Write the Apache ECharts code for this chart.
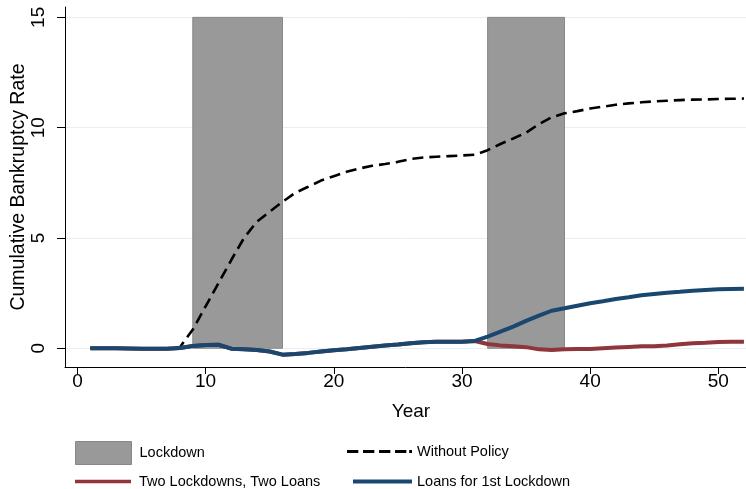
<!DOCTYPE html>
<html>
<head>
<meta charset="utf-8">
<script src="https://cdn.jsdelivr.net/npm/echarts@6/dist/echarts.min.js"></script>
<style>
  html, body { margin: 0; padding: 0; background: #fff; }
  #chart { width: 746px; height: 489px; }
</style>
</head>
<body>
<div id="chart"></div>
<script>
// years on the x axis
var years = [1,2,3,4,5,6,7,8,9,10,11,12,13,14,15,16,17,18,19,20,21,22,23,24,25,26,
  27,28,29,30,31,32,33,34,35,36,37,38,39,40,41,42,43,44,45,46,47,48,49,50,51,52];

var withoutPolicy = [0,0,0,0,0,0,0,0.05,0.85,1.9,2.95,4.0,5.0,5.74,6.19,6.64,7.05,7.32,7.6,7.8,
  8.0,8.15,8.27,8.35,8.45,8.58,8.65,8.68,8.71,8.74,8.77,8.98,9.26,9.51,9.77,10.16,10.47,10.65,
  10.75,10.87,10.95,11.04,11.1,11.15,11.19,11.22,11.25,11.27,11.28,11.3,11.31,11.32];

var twoLoans = [0,0,0,-0.01,-0.02,-0.02,-0.02,0.01,0.1,0.15,0.16,-0.02,-0.05,-0.08,-0.15,-0.29,
  -0.26,-0.21,-0.15,-0.09,-0.05,0.01,0.07,0.12,0.17,0.23,0.27,0.29,0.29,0.3,0.33,
  0.19,0.13,0.09,0.05,-0.05,-0.08,-0.05,-0.03,-0.03,0,0.03,0.06,0.09,0.09,0.13,0.18,0.23,0.25,0.28,0.3,0.3];

var firstLoans = [0,0,0,-0.01,-0.02,-0.02,-0.02,0.01,0.1,0.15,0.16,-0.02,-0.05,-0.08,-0.15,-0.29,
  -0.26,-0.21,-0.15,-0.09,-0.05,0.01,0.07,0.12,0.17,0.23,0.27,0.29,0.29,0.3,0.33,
  0.53,0.75,0.98,1.24,1.48,1.7,1.81,1.93,2.04,2.13,2.23,2.31,2.4,2.46,2.52,2.56,2.61,2.64,2.67,2.69,2.7];

// lockdown periods (shaded)
var lockdownStart = [9, 32];
var lockdownEnd = [16, 38];
var lockdownTop = 15;

var xTicks = [0, 10, 20, 30, 40, 50];
var yTicks = [0, 5, 10, 15];

var FONT = '"Liberation Sans", Arial, Helvetica, sans-serif';
var NAVY = '#1a476f';
var MAROON = '#90353b';

// legend glyphs (stata style): dashed line with a trailing dot, plain bar
var DASH_ICON = 'path://M0,0h12v3h-12z M17,0h12v3h-12z M34,0h12v3h-12z M51,0h12v3h-12z M66,0h3v3h-3z';
var BAR_ICON = 'path://M0,0h60v4h-60z';

function pairs(ys) {
  return years.map(function (x, i) { return [x, ys[i]]; });
}

var areas = lockdownStart.map(function (s, i) {
  return [{ coord: [s, lockdownTop] }, { coord: [lockdownEnd[i], 0] }];
});

var chart = echarts.init(document.getElementById('chart'));

function legendText(pad) {
  return { fontFamily: FONT, fontSize: 14.5, color: '#000', padding: [0, 0, 0, pad] };
}

chart.setOption({
  animation: false,
  backgroundColor: '#fff',
  grid: { left: 65, right: 0, top: 7, bottom: 122, containLabel: false, outerBoundsMode: 'none' },
  xAxis: {
    type: 'value',
    min: -0.97,
    max: 52.16,
    name: 'Year',
    nameLocation: 'middle',
    nameGap: 35,
    nameMoveOverlap: false,
    nameTextStyle: { fontFamily: FONT, fontSize: 19, color: '#000', padding: [0, 0, 0, 11] },
    axisLine: { show: true, onZero: false, lineStyle: { color: '#000', width: 1 } },
    axisTick: { show: true, length: 7, customValues: xTicks, lineStyle: { color: '#000' } },
    axisLabel: { customValues: xTicks, fontFamily: FONT, fontSize: 19, color: '#000', margin: 5 },
    splitLine: { show: false }
  },
  yAxis: {
    type: 'value',
    min: -0.85,
    max: 15.47,
    name: 'Cumulative Bankruptcy Rate',
    nameLocation: 'middle',
    nameGap: 36,
    nameRotate: 90,
    nameMoveOverlap: false,
    nameTextStyle: { fontFamily: FONT, fontSize: 19.5, color: '#000' },
    axisLine: { show: true, onZero: false, lineStyle: { color: '#000', width: 1 } },
    axisTick: { show: true, length: 8, customValues: yTicks, lineStyle: { color: '#000' } },
    axisLabel: { customValues: yTicks, rotate: 90, fontFamily: FONT, fontSize: 19, color: '#000', margin: 17 },
    splitLine: { show: true, lineStyle: { color: '#e6eff2', width: 1 } }
  },
  legend: [
    {
      padding: 0, selectedMode: false, left: 75, top: 441, itemWidth: 56, itemHeight: 23,
      textStyle: legendText(3),
      data: [{ name: 'Lockdown', icon: 'rect', itemStyle: { color: '#999999', borderColor: '#888888', borderWidth: 1 } }]
    },
    {
      padding: 0, selectedMode: false, left: 347, top: 444, itemWidth: 65, itemHeight: 3,
      textStyle: legendText(0),
      data: [{ name: 'Without Policy', icon: DASH_ICON, itemStyle: { color: '#000' } }]
    },
    {
      padding: 0, selectedMode: false, left: 75, top: 474, itemWidth: 56, itemHeight: 4,
      textStyle: legendText(3),
      data: [{ name: 'Two Lockdowns, Two Loans', icon: BAR_ICON, itemStyle: { color: MAROON } }]
    },
    {
      padding: 0, selectedMode: false, left: 353, top: 474, itemWidth: 59, itemHeight: 4,
      textStyle: legendText(0),
      data: [{ name: 'Loans for 1st Lockdown', icon: BAR_ICON, itemStyle: { color: NAVY } }]
    }
  ],
  series: [
    {
      name: 'Lockdown',
      type: 'line',
      data: [],
      itemStyle: { color: '#999999' },
      markArea: {
        silent: true,
        itemStyle: { color: '#999999', borderColor: '#888888', borderWidth: 1 },
        data: areas
      },
      z: 1
    },
    {
      name: 'Without Policy',
      type: 'line',
      data: pairs(withoutPolicy),
      symbol: 'none',
      itemStyle: { color: '#000' },
      lineStyle: { color: '#000', width: 2.6, type: [11, 6] },
      z: 3
    },
    {
      name: 'Two Lockdowns, Two Loans',
      type: 'line',
      data: pairs(twoLoans),
      symbol: 'none',
      itemStyle: { color: MAROON },
      lineStyle: { color: MAROON, width: 4 },
      z: 4
    },
    {
      name: 'Loans for 1st Lockdown',
      type: 'line',
      data: pairs(firstLoans),
      symbol: 'none',
      itemStyle: { color: NAVY },
      lineStyle: { color: NAVY, width: 4 },
      z: 5
    }
  ]
});
</script>
</body>
</html>
